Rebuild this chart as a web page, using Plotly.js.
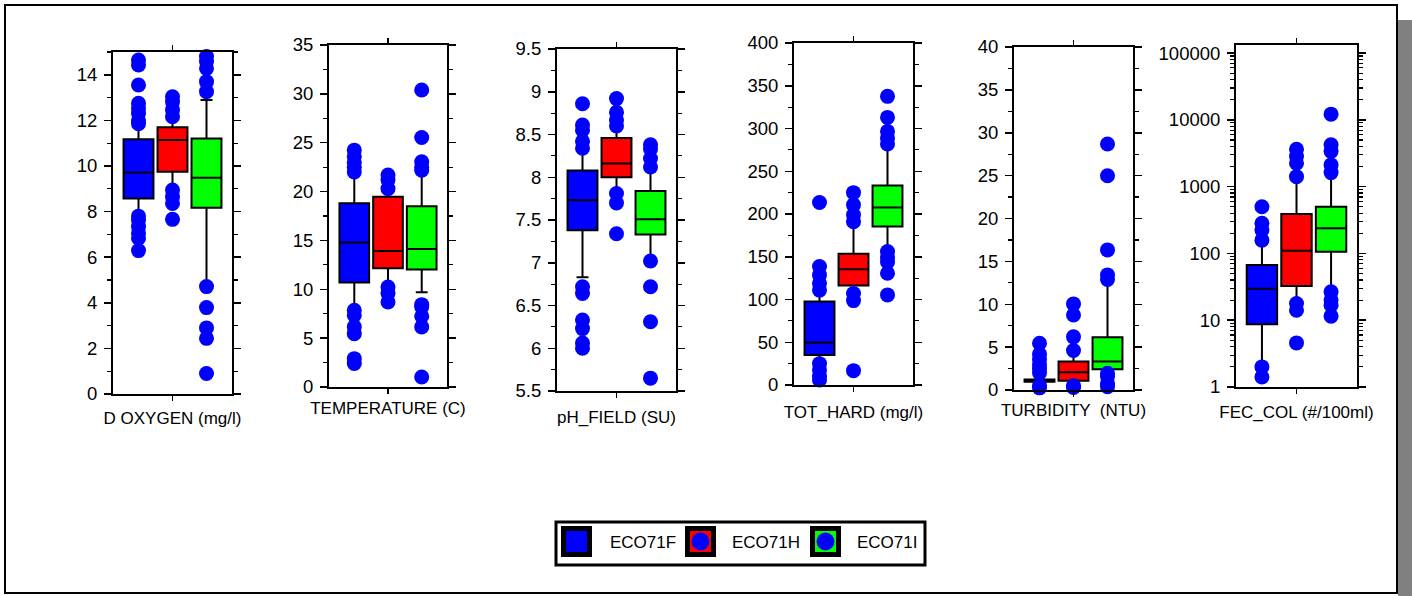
<!DOCTYPE html>
<html><head><meta charset="utf-8">
<script src="https://cdn.plot.ly/plotly-3.0.1.min.js"></script>
<style>html,body{margin:0;padding:0;background:#fff}#chart{width:1412px;height:596px}</style>
</head><body><div id="chart"></div>
<script>
// ---------- DATA ----------
const groups = ['ECO71F', 'ECO71H', 'ECO71I'];
const axisTitles = ['D OXYGEN (mg/l)', 'TEMPERATURE (C)', 'pH_FIELD (SU)', 'TOT_HARD (mg/l)', 'TURBIDITY  (NTU)', 'FEC_COL (#/100ml)'];

// Dissolved oxygen
const doxQ1 = [8.58, 9.75, 8.17];
const doxMed = [9.71, 11.14, 9.49];
const doxQ3 = [11.17, 11.70, 11.21];
const doxLo = [7.9, 9.0, 4.8];
const doxHi = [11.75, 12.1, 12.89];
const doxOutF = [14.65, 14.43, 13.55, 12.75, 12.53, 12.3, 11.98, 11.85, 7.8, 7.63, 7.34, 7.05, 6.83, 6.29];
const doxOutH = [13.04, 12.82, 12.46, 12.16, 8.95, 8.65, 8.36, 7.66];
const doxOutI = [14.8, 14.58, 14.28, 13.7, 13.26, 4.71, 3.79, 2.9, 2.44, 0.9];

// Temperature
const tmpQ1 = [10.69, 12.15, 12.02];
const tmpMed = [14.78, 13.93, 14.13];
const tmpQ3 = [18.81, 19.46, 18.5];
const tmpLo = [8.0, 10.3, 9.7];
const tmpHi = [21.8, 20.4, 22.0];
const tmpOutF = [24.24, 23.6, 23.0, 22.5, 22.0, 7.85, 7.34, 6.15, 5.46, 2.9, 2.4];
const tmpOutH = [21.7, 21.2, 20.3, 10.24, 9.56, 8.7];
const tmpOutI = [30.39, 25.54, 23.05, 22.5, 22.19, 8.43, 8.2, 7.24, 6.15, 1.02];

// pH field
const phQ1 = [7.38, 8.0, 7.33];
const phMed = [7.73, 8.16, 7.51];
const phQ3 = [8.08, 8.46, 7.84];
const phLo = [6.83, 7.83, 7.04];
const phHi = [8.36, 8.58, 8.14];
const phOutF = [8.86, 8.61, 8.55, 8.42, 8.34, 6.72, 6.64, 6.33, 6.23, 6.06, 6.0];
const phOutH = [8.92, 8.76, 8.67, 8.6, 7.81, 7.7, 7.34];
const phOutI = [8.38, 8.33, 8.22, 8.12, 7.02, 6.72, 6.31, 5.65];

// Total hardness
const hardQ1 = [35.1, 116.3, 185.4];
const hardMed = [49.6, 135.4, 207.6];
const hardQ3 = [97.6, 153.4, 233.4];
const hardLo = [25, 107, 156];
const hardHi = [111, 189, 281];
const hardOutF = [213.5, 138.5, 128.8, 119, 111, 25, 17.6, 9.8, 5.9];
const hardOutH = [225, 210.7, 199, 191, 107, 98.7, 16.8];
const hardOutI = [337.6, 313, 296.6, 288.8, 281.8, 156, 149, 144, 130.7, 105.4];

// Turbidity
const turbQ1 = [0.95, 1.09, 2.41];
const turbMed = [1.1, 2.06, 3.31];
const turbQ3 = [1.22, 3.31, 6.15];
const turbLo = [0.95, 0.5, 1.95];
const turbHi = [1.22, 4.6, 12.9];
const turbOutF = [5.45, 4.2, 3.6, 3.0, 2.5, 2.0, 0.5, 0.25];
const turbOutH = [10.04, 8.75, 6.2, 4.6, 0.5, 0.3];
const turbOutI = [28.68, 24.98, 16.34, 13.42, 12.9, 1.95, 1.56, 0.78, 0.39];

// Fecal coliform
const fecQ1 = [8.7, 32.4, 106];
const fecMed = [29.5, 110, 237];
const fecQ3 = [67, 389, 501];
const fecLo = [2.1, 17.8, 26.6];
const fecHi = [140, 1410, 1622];
const fecOutF = [500, 282, 224, 158, 2.0, 1.41];
const fecOutH = [3630, 2820, 2240, 1410, 17.8, 14.1, 4.57];
const fecOutI = [12160, 4217, 3350, 2113, 1622, 26.6, 20, 16.8, 11.5];
const fecTickVals = [1, 10, 100, 1000, 10000, 100000];
const fecTickText = ['1', '10', '100', '1000', '10000', '100000'];

// ---------- STYLE / LAYOUT ----------
const W = 1412, H = 596;
const fx = p => p / W;
const fy = p => 1 - p / H;
const fills = ['#0000ff', '#ff0000', '#00ff00'];
const FONT = 'Liberation Sans, Arial, sans-serif';

const panels = [
  {q1: doxQ1, med: doxMed, q3: doxQ3, lo: doxLo, hi: doxHi, out: [doxOutF, doxOutH, doxOutI],
   box: [113, 232, 52, 394], range: [0, 15], dtick: 2, minor: 1, standoff: 12},
  {q1: tmpQ1, med: tmpMed, q3: tmpQ3, lo: tmpLo, hi: tmpHi, out: [tmpOutF, tmpOutH, tmpOutI],
   box: [329, 447, 45, 387], range: [0, 35], dtick: 5, minor: 2.5, standoff: 9},
  {q1: phQ1, med: phMed, q3: phQ3, lo: phLo, hi: phHi, out: [phOutF, phOutH, phOutI],
   box: [557, 676, 49, 391], range: [5.5, 9.5], dtick: 0.5, minor: 0.25, standoff: 14},
  {q1: hardQ1, med: hardMed, q3: hardQ3, lo: hardLo, hi: hardHi, out: [hardOutF, hardOutH, hardOutI],
   box: [794, 913, 43, 385], range: [0, 400], dtick: 50, minor: 25, standoff: 15},
  {q1: turbQ1, med: turbMed, q3: turbQ3, lo: turbLo, hi: turbHi, out: [turbOutF, turbOutH, turbOutI],
   box: [1014, 1133, 47, 390], range: [0, 40], dtick: 5, minor: 2.5, standoff: 8},
  {q1: fecQ1, med: fecMed, q3: fecQ3, lo: fecLo, hi: fecHi, out: [fecOutF, fecOutH, fecOutI],
   box: [1236, 1357, 45, 387], log: true, range: [0, 5.12], standoff: 13}
];

const traces = [];
const outlierTraces = [];
const layout = {
  width: W, height: H,
  margin: {l: 0, r: 0, t: 0, b: 0},
  paper_bgcolor: '#ffffff', plot_bgcolor: 'rgba(0,0,0,0)',
  showlegend: false,
  font: {family: FONT, size: 17, color: '#000'},
  shapes: [], annotations: []
};

panels.forEach((p, i) => {
  const n = i + 1;
  const xa = 'x' + (n === 1 ? '' : n), ya = 'y' + (n === 1 ? '' : n);
  groups.forEach((g, k) => {
    traces.push({
      type: 'box', name: g, xaxis: xa, yaxis: ya,
      x: [k], q1: [p.q1[k]], median: [p.med[k]], q3: [p.q3[k]],
      lowerfence: [p.lo[k]], upperfence: [p.hi[k]],
      width: 0.88, whiskerwidth: 0.4, boxpoints: false,
      fillcolor: fills[k], line: {color: '#000', width: 2},
      hoverinfo: 'skip'
    });
    outlierTraces.push({
      type: 'scatter', mode: 'markers', name: g, xaxis: xa, yaxis: ya,
      x: p.out[k].map(() => k), y: p.out[k],
      marker: {size: 15, color: '#0000ff', line: {width: 0}},
      cliponaxis: false, hoverinfo: 'skip'
    });
  });
  const [l, r, t, b] = p.box;
  layout['xaxis' + (n === 1 ? '' : n)] = {
    domain: [fx(l), fx(r)], anchor: ya, range: [-0.75, 2.75],
    tickmode: 'array', tickvals: [1], showticklabels: false,
    ticks: 'outside', ticklen: 5, tickwidth: 1.5, tickcolor: '#000',
    showline: true, linewidth: 2, linecolor: '#000', mirror: 'ticks',
    showgrid: false, zeroline: false, fixedrange: true,
    title: {text: axisTitles[i], font: {family: FONT, size: 17, color: '#000'}, standoff: p.standoff}
  };
  const yax = {
    domain: [fy(b), fy(t)], anchor: xa, range: p.range,
    ticks: 'outside', ticklen: 7, tickwidth: 1.5, tickcolor: '#000',
    ticklabelstandoff: 3,
    showline: true, linewidth: 2, linecolor: '#000', mirror: 'ticks',
    showgrid: false, zeroline: false, fixedrange: true,
    tickfont: {family: FONT, size: 18.5, color: '#000'}
  };
  if (p.log) {
    yax.type = 'log';
    yax.tickmode = 'array'; yax.tickvals = fecTickVals; yax.ticktext = fecTickText;
    const mv = [];
    for (let d = 1; d < 200000; d *= 10) for (let m = 2; m <= 9; m++) mv.push(m * d);
    yax.minor = {tickmode: 'array', tickvals: mv, ticks: 'outside', ticklen: 4, tickwidth: 1.2, tickcolor: '#000'};
  } else {
    yax.tick0 = p.range[0]; yax.dtick = p.dtick;
    yax.minor = {ticks: 'outside', dtick: p.minor, tick0: p.range[0], ticklen: 4, tickwidth: 1.2, tickcolor: '#000'};
  }
  layout['yaxis' + (n === 1 ? '' : n)] = yax;
});

// outer frame and shadow
layout.shapes.push({type: 'rect', xref: 'paper', yref: 'paper', x0: fx(1398), x1: fx(1412), y0: fy(596), y1: fy(20), fillcolor: '#808080', line: {width: 0}, layer: 'below'});
layout.shapes.push({type: 'rect', xref: 'paper', yref: 'paper', x0: fx(5), x1: fx(1397), y0: fy(593), y1: fy(5), line: {color: '#000', width: 2}, layer: 'below'});

// legend box
layout.shapes.push({type: 'rect', xref: 'paper', yref: 'paper', x0: fx(556), x1: fx(925), y0: fy(565), y1: fy(522), fillcolor: '#fff', line: {color: '#000', width: 3}});
const legSwatchX = [561, 685, 810];
const legTextX = [608, 730, 855];
groups.forEach((g, k) => {
  const x0 = legSwatchX[k];
  layout.shapes.push({type: 'rect', xref: 'paper', yref: 'paper', x0: fx(x0), x1: fx(x0 + 31), y0: fy(557), y1: fy(526), fillcolor: '#000', line: {width: 0}});
  layout.shapes.push({type: 'rect', xref: 'paper', yref: 'paper', x0: fx(x0 + 5), x1: fx(x0 + 26), y0: fy(552), y1: fy(531), fillcolor: fills[k], line: {width: 0}});
  if (k > 0) {
    layout.shapes.push({type: 'circle', xref: 'paper', yref: 'paper', x0: fx(x0 + 6.5), x1: fx(x0 + 24.5), y0: fy(550.5), y1: fy(532.5), fillcolor: '#0000ff', line: {width: 0}});
  }
  layout.annotations.push({xref: 'paper', yref: 'paper', x: fx(legTextX[k]), y: fy(542), xanchor: 'left', yanchor: 'middle',
    text: g, showarrow: false, font: {family: FONT, size: 17, color: '#000'}});
});

Plotly.newPlot('chart', traces.concat(outlierTraces), layout, {staticPlot: true, displayModeBar: false});
</script>
</body></html>
